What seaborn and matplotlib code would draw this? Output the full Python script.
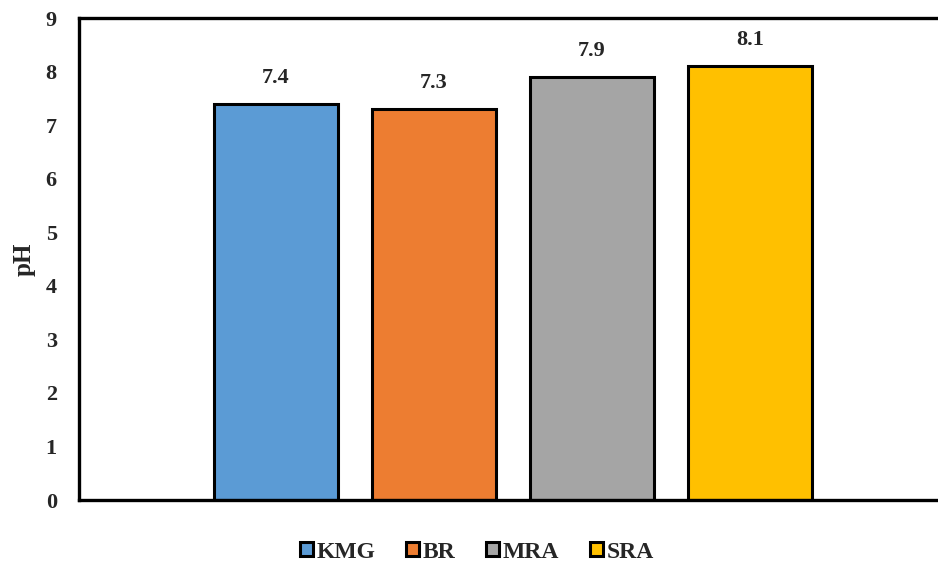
import matplotlib
matplotlib.use("Agg")
import matplotlib.pyplot as plt
import seaborn as sns
import pandas as pd
from matplotlib.patches import Patch

categories = ["KMG", "BR", "MRA", "SRA"]
ph_values = [7.4, 7.3, 7.9, 8.1]
colors = ["#5B9BD5", "#ED7D31", "#A5A5A5", "#FFC000"]
yticks = [0, 1, 2, 3, 4, 5, 6, 7, 8, 9]

sns.set_style("white")
plt.rcParams["font.family"] = ["Liberation Serif", "DejaVu Serif"]
plt.rcParams["font.weight"] = "bold"

df = pd.DataFrame({"cat": categories, "pH": ph_values})

fig = plt.figure(figsize=(9.38, 5.65), dpi=100)
ax = fig.add_axes([79/938, 1-500/565, 868/938, (500-18)/565])

sns.barplot(data=df, x="cat", y="pH", hue="cat", palette=colors, order=categories,
            hue_order=categories, width=0.79, edgecolor="black", linewidth=2.2,
            legend=False, ax=ax, saturation=1)

for i, v in enumerate(ph_values):
    ax.text(i, v + 0.3, f"{v:.1f}", ha="center", va="bottom", fontsize=16, fontweight="bold")

ax.set_xlim(-1.247, 4.247)
ax.set_ylim(0, 9)
ax.set_yticks(yticks)
ax.set_yticklabels([str(t) for t in yticks], fontsize=16, fontweight="bold")
ax.set_xticks([])
ax.set_xlabel("")
ax.set_ylabel("pH", fontsize=18, fontweight="bold")
ax.yaxis.set_label_coords((36 - 79) / 868, 0.5)
ax.tick_params(axis="y", length=0, pad=16)
for side in ["left", "top", "bottom"]:
    ax.spines[side].set_linewidth(2.4)
    ax.spines[side].set_color("black")
ax.spines["right"].set_visible(False)

handles = [Patch(facecolor=c, edgecolor="black", linewidth=2.2) for c in colors]
fig.legend(handles, categories, loc="center", bbox_to_anchor=(477/938, 1-552/565),
           ncol=4, frameon=False, prop={"size": 17, "weight": "bold"},
           handlelength=0.55, handleheight=0.55, handletextpad=0.15, columnspacing=1.3)

fig.savefig("out.png", dpi=100)
